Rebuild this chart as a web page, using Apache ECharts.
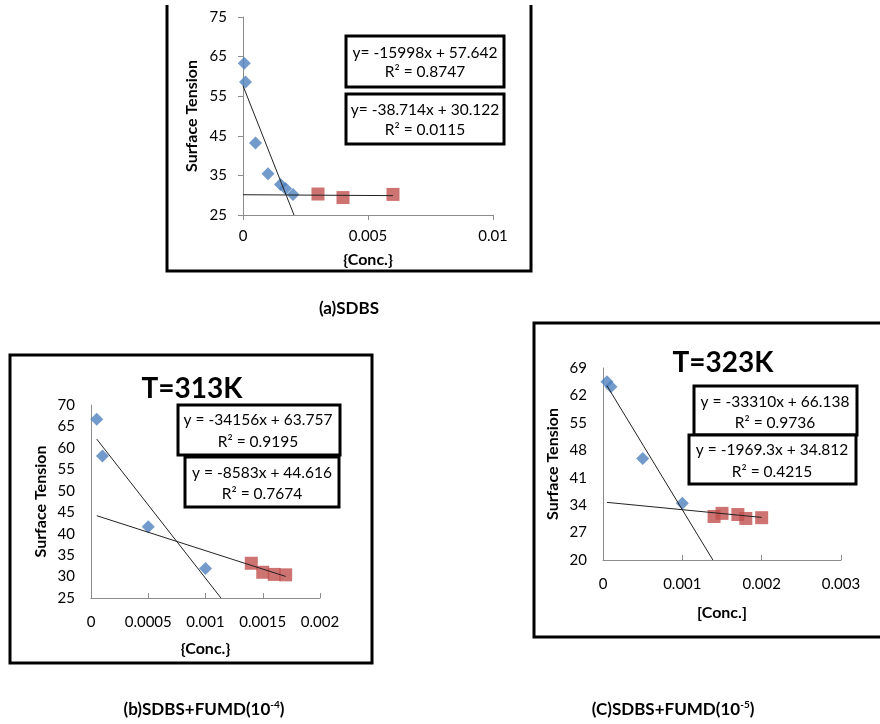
<!DOCTYPE html>
<html><head><meta charset="utf-8">
<script src="https://cdn.jsdelivr.net/npm/echarts@6/dist/echarts.min.js"></script>
<style>html,body{margin:0;padding:0;background:#fff}#c{width:880px;height:724px}</style>
</head><body><div id="c"></div>
<script>
// ---------- data ----------
// (a) SDBS
const aBlueConc = [0.00005, 0.0001, 0.0005, 0.001, 0.0015, 0.0017, 0.002];
const aBlueST   = [63.3, 58.6, 43.2, 35.4, 32.7, 31.7, 30.2];
const aRedConc  = [0.003, 0.004, 0.006];
const aRedST    = [30.3, 29.4, 30.2];
const aTrend1   = [[0, 57.64], [0.00204, 25.0]];
const aTrend2   = [[0, 30.12], [0.006, 29.89]];
const aXTicks   = [0, 0.005, 0.01];
const aYTicks   = [25, 35, 45, 55, 65, 75];
const aEq1 = ['y= -15998x + 57.642', 'R² = 0.8747'];
const aEq2 = ['y= -38.714x + 30.122', 'R² = 0.0115'];

// (b) SDBS+FUMD(10^-4), T=313K
const bBlueConc = [0.00005, 0.0001, 0.0005, 0.001];
const bBlueST   = [66.7, 58.1, 41.6, 31.9];
const bRedConc  = [0.0014, 0.0015, 0.0016, 0.0017];
const bRedST    = [33.1, 31.0, 30.5, 30.4];
const bTrend1   = [[0.00005, 62.05], [0.001135, 25.0]];
const bTrend2   = [[0.00005, 44.19], [0.0017, 30.03]];
const bXTicks   = [0, 0.0005, 0.001, 0.0015, 0.002];
const bYTicks   = [25, 30, 35, 40, 45, 50, 55, 60, 65, 70];
const bEq1 = ['y = -34156x + 63.757', 'R² = 0.9195'];
const bEq2 = ['y = -8583x + 44.616', 'R² = 0.7674'];

// (c) SDBS+FUMD(10^-5), T=323K
const cBlueConc = [0.00005, 0.0001, 0.0005, 0.001];
const cBlueST   = [65.5, 64.2, 45.9, 34.5];
const cRedConc  = [0.0014, 0.0015, 0.0017, 0.0018, 0.002];
const cRedST    = [31.1, 31.9, 31.6, 30.6, 30.8];
const cTrend1   = [[0.00005, 64.47], [0.001385, 20.0]];
const cTrend2   = [[0.00005, 34.71], [0.002, 30.87]];
const cXTicks   = [0, 0.001, 0.002, 0.003];
const cYTicks   = [20, 27, 34, 41, 48, 55, 62, 69];
const cEq1 = ['y = -33310x + 66.138', 'R² = 0.9736'];
const cEq2 = ['y = -1969.3x + 34.812', 'R² = 0.4215'];

const titles = ['T=313K', 'T=323K'];
const xNames = ['{Conc.}', '{Conc.}', '[Conc.]'];
const yName = 'Surface Tension';

// ---------- styling ----------
const FONT = 'Lato';
const BLUE = '#4F81BD';
const RED = '#C0504D';
const AXIS = '#8c8c8c';

const zip = (xs, ys) => xs.map((x, i) => [x, ys[i]]);

function xAxis(g, ticks, inside, margin, name, gap) {
  return {
    type: 'value', gridIndex: g, min: ticks[0], max: ticks[ticks.length - 1],
    axisLine: { show: true, onZero: false, lineStyle: { color: AXIS, width: 1 } },
    splitLine: { show: false },
    axisTick: { show: true, inside: inside, length: 5, customValues: ticks, lineStyle: { color: AXIS } },
    axisLabel: { customValues: ticks, formatter: v => String(v), fontFamily: FONT, fontSize: 15, color: '#000', margin: margin },
    name: name, nameLocation: 'middle', nameGap: gap,
    nameTextStyle: { fontFamily: FONT, fontWeight: 'bold', fontSize: 16, color: '#000' }
  };
}
function yAxis(g, ticks, showTick, margin, gap) {
  return {
    type: 'value', gridIndex: g, min: ticks[0], max: ticks[ticks.length - 1],
    axisLine: { show: true, onZero: false, lineStyle: { color: AXIS, width: 1 } },
    splitLine: { show: false },
    axisTick: { show: showTick, length: 5, customValues: ticks, lineStyle: { color: AXIS } },
    axisLabel: { customValues: ticks, formatter: v => String(v), fontFamily: FONT, fontSize: 15, color: '#000', margin: margin },
    name: yName, nameLocation: 'middle', nameGap: gap,
    nameTextStyle: { fontFamily: FONT, fontWeight: 'bold', fontSize: 16, color: '#000' }
  };
}
function scatter(g, data, sym, color, size) {
  return { type: 'scatter', xAxisIndex: g, yAxisIndex: g, data: data, symbol: sym,
    symbolSize: size, itemStyle: { color: color }, z: 2, silent: true };
}
function trend(g, data) {
  return { type: 'line', xAxisIndex: g, yAxisIndex: g, data: data, symbol: 'none', showSymbol: false,
    lineStyle: { color: '#222', width: 1 }, z: 3, silent: true };
}
function eqBox(x, y, w, h, lines, cx, y1, y2) {
  const ts = { fontFamily: FONT, fontSize: 15.5, fill: '#000', align: 'center', verticalAlign: 'middle' };
  return [
    { type: 'rect', shape: { x: x, y: y, width: w, height: h }, style: { fill: '#fff', stroke: '#000', lineWidth: 3 }, z: 100 },
    { type: 'text', x: cx, y: y1, style: Object.assign({ text: lines[0] }, ts), z: 101 },
    { type: 'text', x: cx, y: y2, style: Object.assign({ text: lines[1] }, ts), z: 101 }
  ];
}
function caption(cx, cy, text) {
  return { type: 'text', x: cx, y: cy, z: 101,
    style: { text: text, fontFamily: FONT, fontSize: 17, fontWeight: 'bold', fill: '#000', align: 'center', verticalAlign: 'middle',
      rich: { sup: { fontFamily: FONT, fontSize: 10, fontWeight: 'bold', fill: '#000', verticalAlign: 'top', lineHeight: 20 } } } };
}

const chart = echarts.init(document.getElementById('c'), null, { renderer: 'canvas' });
const option = {
  animation: false,
  backgroundColor: '#fff',
  grid: [
    { left: 243, top: 17, width: 250, height: 198 },
    { left: 91, top: 405, width: 229, height: 193 },
    { left: 603, top: 368, width: 238, height: 192 }
  ],
  xAxis: [
    xAxis(0, aXTicks, false, 14, xNames[0], 37),
    xAxis(1, bXTicks, true, 17, xNames[1], 43),
    xAxis(2, cXTicks, true, 17, xNames[2], 45)
  ],
  yAxis: [
    yAxis(0, aYTicks, true, 16, 43),
    yAxis(1, bYTicks, false, 16, 42),
    yAxis(2, cYTicks, false, 16, 42)
  ],
  series: [
    scatter(0, zip(aBlueConc, aBlueST), 'diamond', BLUE, 13),
    scatter(0, zip(aRedConc, aRedST), 'rect', RED, 13),
    trend(0, aTrend1), trend(0, aTrend2),
    scatter(1, zip(bBlueConc, bBlueST), 'diamond', BLUE, 13),
    scatter(1, zip(bRedConc, bRedST), 'rect', RED, 13),
    trend(1, bTrend1), trend(1, bTrend2),
    scatter(2, zip(cBlueConc, cBlueST), 'diamond', BLUE, 13),
    scatter(2, zip(cRedConc, cRedST), 'rect', RED, 13),
    trend(2, cTrend1), trend(2, cTrend2)
  ],
  graphic: { elements: [
    // frames
    { type: 'polyline', shape: { points: [[167, 5], [167, 271], [531, 271], [531, 5]] }, style: { stroke: '#000', lineWidth: 3, fill: null }, z: 100 },
    { type: 'rect', shape: { x: 10, y: 355, width: 362, height: 308 }, style: { stroke: '#000', lineWidth: 3, fill: null }, z: 100 },
    { type: 'polyline', shape: { points: [[882, 323], [534, 323], [534, 637], [882, 637]] }, style: { stroke: '#000', lineWidth: 3, fill: null }, z: 100 },
    // titles
    { type: 'text', x: 192, y: 389, z: 101, style: { text: titles[0], fontFamily: FONT, fontSize: 28, fontWeight: 'bold', fill: '#000', align: 'center', verticalAlign: 'middle' } },
    { type: 'text', x: 723, y: 363, z: 101, style: { text: titles[1], fontFamily: FONT, fontSize: 28, fontWeight: 'bold', fill: '#000', align: 'center', verticalAlign: 'middle' } },
    // equation boxes
    ...eqBox(346, 36, 158, 51, aEq1, 425, 53, 72),
    ...eqBox(346, 94, 158, 50, aEq2, 425, 110, 130),
    ...eqBox(178, 405, 162, 50, bEq1, 258, 420, 442),
    ...eqBox(185, 457, 154, 50, bEq2, 262, 473, 494),
    ...eqBox(694, 386, 163, 49, cEq1, 775, 402, 423),
    ...eqBox(689, 435, 167, 49, cEq2, 772, 450, 472),
    // captions
    caption(349, 309, '(a)SDBS'),
    caption(204, 710, '(b)SDBS+FUMD(10{sup|-4})'),
    caption(673, 710, '(C)SDBS+FUMD(10{sup|-5})')
  ] }
};
chart.setOption(option);
</script>
</body></html>
